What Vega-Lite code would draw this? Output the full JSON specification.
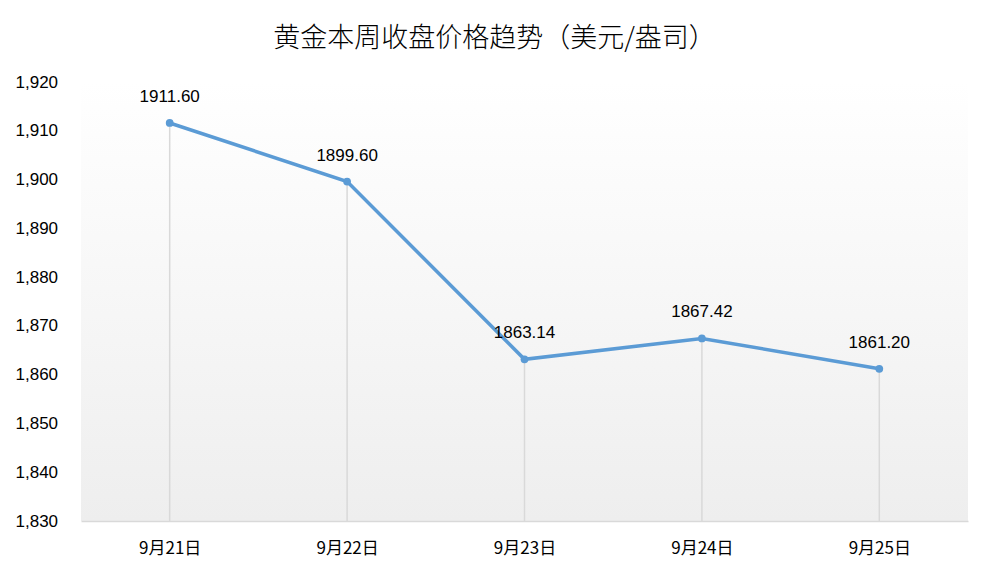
{
  "$schema": "https://vega.github.io/schema/vega-lite/v6.json",
  "width": 887,
  "height": 439,
  "autosize": {"type": "none"},
  "padding": {"left": 81, "top": 82, "right": 23, "bottom": 54},
  "background": "#ffffff",
  "title": {
    "text": "黄金本周收盘价格趋势（美元/盎司）",
    "font": "Noto Sans CJK SC",
    "fontSize": 27,
    "fontWeight": 300,
    "color": "#000000",
    "anchor": "middle",
    "dx": -30,
    "offset": 20
  },
  "config": {
    "view": {
      "stroke": null,
      "fill": {"gradient": "linear", "x1": 0, "y1": 0, "x2": 0, "y2": 1,
        "stops": [{"offset": 0, "color": "#ffffff"}, {"offset": 1, "color": "#eeeeee"}]}
    }
  },
  "data": {"values": [
    {"date": "9月21日", "price": 1911.60},
    {"date": "9月22日", "price": 1899.60},
    {"date": "9月23日", "price": 1863.14},
    {"date": "9月24日", "price": 1867.42},
    {"date": "9月25日", "price": 1861.20}
  ]},
  "encoding": {
    "x": {"field": "date", "type": "ordinal", "sort": null,
      "scale": {"type": "point", "padding": 0.5},
      "axis": {"title": null, "labelAngle": 0, "ticks": false, "domainColor": "#d9d9d9", "domainWidth": 1.5,
        "labelFont": "Noto Sans CJK SC", "labelFontSize": 17, "labelColor": "#000000", "labelPadding": 19}}
  },
  "layer": [
    {
      "mark": {"type": "rule", "color": "#d9d9d9", "strokeWidth": 1.5},
      "encoding": {
        "y": {"field": "price", "type": "quantitative",
          "scale": {"domain": [1830, 1920], "nice": false, "zero": false},
          "axis": {"title": null, "grid": false, "domain": false, "ticks": false,
            "values": [1830, 1840, 1850, 1860, 1870, 1880, 1890, 1900, 1910, 1920],
            "format": ",.0f", "labelAlign": "left", "labelPadding": 66,
            "labelFont": "Liberation Sans", "labelFontSize": 17, "labelColor": "#000000"}},
        "y2": {"datum": 1830}
      }
    },
    {
      "mark": {"type": "line", "color": "#5b9bd5", "strokeWidth": 3.5,
        "point": {"filled": true, "size": 60, "color": "#5b9bd5"}},
      "encoding": {"y": {"field": "price", "type": "quantitative"}}
    },
    {
      "mark": {"type": "text", "dy": -26, "font": "Liberation Sans", "fontSize": 17, "color": "#000000"},
      "encoding": {
        "y": {"field": "price", "type": "quantitative"},
        "text": {"field": "price", "type": "quantitative", "format": ".2f"}
      }
    }
  ]
}
